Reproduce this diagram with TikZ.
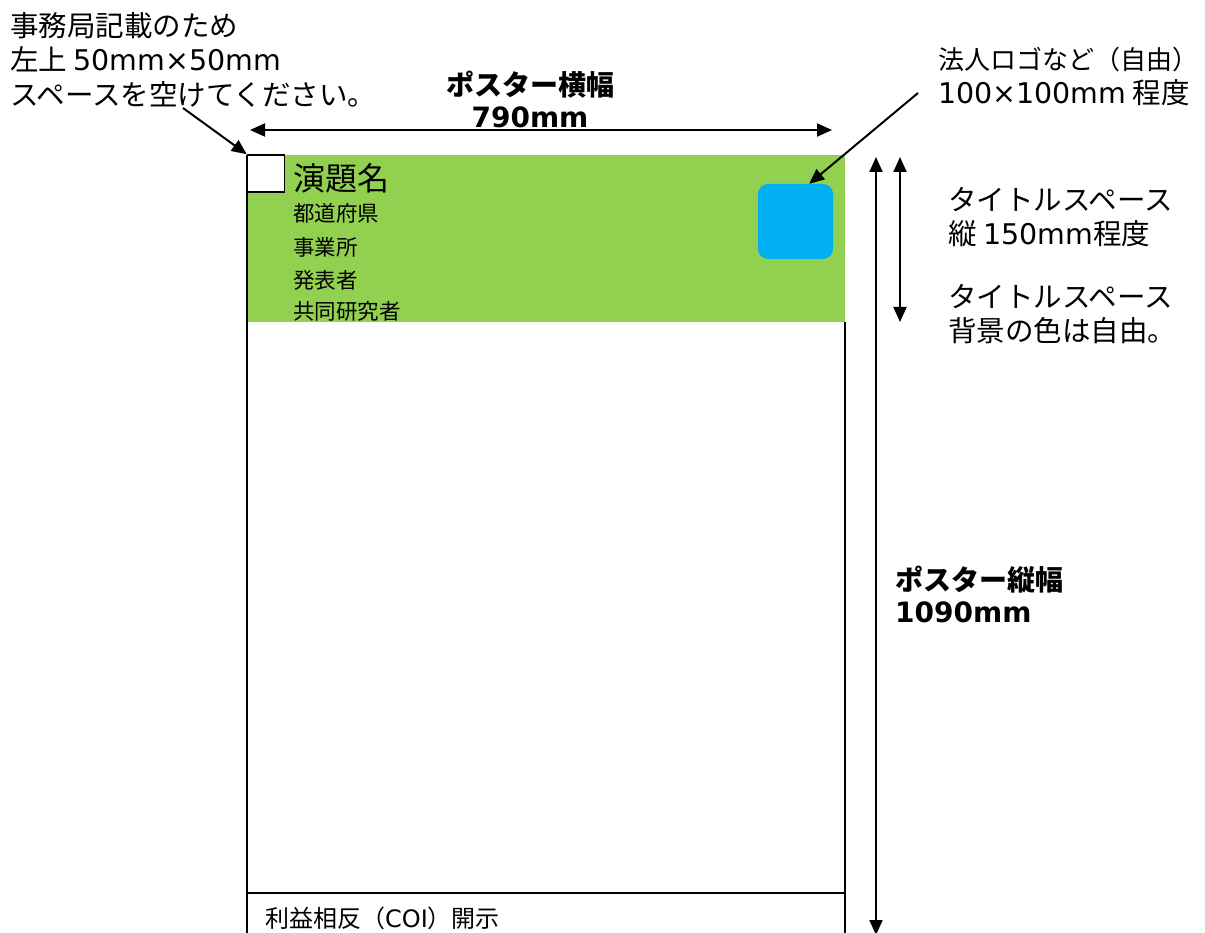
\documentclass[tikz,border=0pt]{standalone}
\usepackage{fontspec}
\setmainfont{Noto Sans CJK JP}
\newfontfamily\latfont{DejaVu Sans}
\newcommand\lat[1]{{\latfont #1}}
\usepackage{tikz}
\usetikzlibrary{arrows,arrows.meta,calc}
\usetikzlibrary{positioning}
\definecolor{titlegreen}{HTML}{92D050}
\definecolor{logoblue}{HTML}{00B0F0}
\tikzset{
    %Define standard arrow tip
    >={Triangle[length=15pt,width=13pt]},
    % Define arrow style
    pil/.style={
           <->,
           line width=2pt,
           },
    pilen/.style={
           ->,
           line width=2pt,
           },
    frame/.style={
           line width=1.5pt,
           },
    note/.style={
           align=left,
           inner sep=0pt,
           anchor=north west,
           font=\fontsize{28.5}{34.5}\selectfont,
           },
    keynote/.style={
           align=left,
           inner sep=0pt,
           anchor=north west,
           font=\bfseries\fontsize{28}{32}\selectfont,
           },
    item/.style={
           inner sep=0pt,
           anchor=west,
           font=\fontsize{21.5}{21.5}\selectfont,
           }
}

\begin{document}
\begin{tikzpicture}[x=1pt,y=-1pt]
  	\clip (0,0) rectangle (1205,933);
  	\fill[white] (0,0) rectangle (1205,933);
  	% title space and poster frame
  	\fill[titlegreen] (247,155) rectangle (845,322);
  	\draw[frame] (247,155) -- (247,940);
  	\draw[frame] (845,322) -- (845,940);
  	\draw[frame] (247,893) -- (845,893);
  	\node (blank) at (266,173.5) [draw, frame, fill=white, minimum size=37pt, inner sep=0pt] {};
  	\node (logo) at (795.5,221.5) [fill=logoblue, rounded corners=10pt, minimum size=75pt, inner sep=0pt] {};
  	\node (endai) at (293,178) [item, font=\fontsize{32}{32}\selectfont] {演題名};
  	\node (ken) at (293,213) [item] {都道府県};
  	\node (jigyo) at (293,247) [item] {事業所};
  	\node (happyo) at (293,280) [item] {発表者};
  	\node (kyodo) at (293,311) [item] {共同研究者};
  	\node (coi) at (265,918) [item, font=\fontsize{24}{24}\selectfont] {利益相反（\lat{COI}）開示};
  	% notes
  	\node (kyoku) at (10,12) [note] {事務局記載のため\\左上 \lat{50mm×50mm}\\スペースを空けてください。};
  	\node (hojin) at (938,47) [note] {{\fontsize{26}{34.5}\selectfont 法人ロゴなど（自由）}\\\lat{100×100mm} 程度};
  	\node (tate150) at (948,187) [note] {タイトルスペース\\縦 \lat{150mm}程度};
  	\node (haikei) at (948,284) [note] {タイトルスペース\\背景の色は自由。};
  	\node (yoko) at (530,71) [keynote, anchor=north, align=center] {ポスター横幅\\\lat{790mm}};
  	\node (tate) at (895,566) [keynote] {ポスター縦幅\\\lat{1090mm}};
  	% dimension arrows
  	\coordinate (wl) at (250,130);
  	\coordinate (wr) at (832,130);
  	\coordinate (ht) at (876,157);
  	\coordinate (hb) at (876,935);
  	\coordinate (tt) at (900,157);
  	\coordinate (tb) at (900,322);
  	\coordinate (kyokuend) at (183,108);
  	\coordinate (hojinend) at (918,93);
  	\draw [pil] (wl) -- (wr);
  	\draw [pil] (ht) -- (hb);
  	\draw [pil] (tt) -- (tb);
  	\draw [pilen] (kyokuend) -- (blank.north west);
  	\draw [pilen] (hojinend) -- (logo.70);
\end{tikzpicture}
\end{document}
